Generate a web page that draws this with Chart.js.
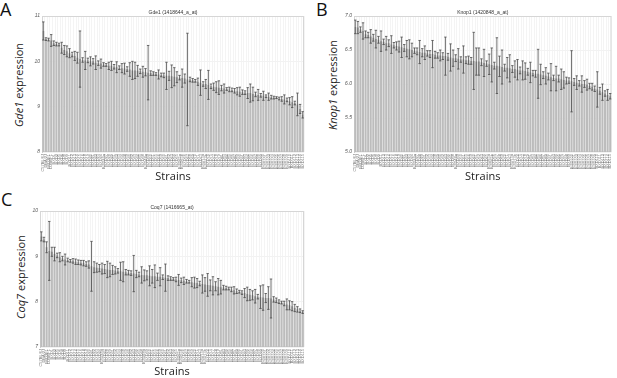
<!DOCTYPE html>
<html>
<head>
<meta charset="utf-8">
<script src="https://cdn.jsdelivr.net/npm/chart.js@4.4.0/dist/chart.umd.min.js"></script>
<style>
  body { margin: 0; background: #fff; width: 617px; height: 378px; position: relative; overflow: hidden; font-family: "Open Sans", sans-serif; }
  canvas { position: absolute; }
  .letter { position: absolute; font-size: 18px; line-height: 18px; color: #111; }
  .ytitle { position: absolute; font-size: 11px; color: #222; white-space: nowrap; transform: translate(-50%, -50%) rotate(-90deg); }
</style>
</head>
<body>
<div class="letter" style="left:0px;top:0px">A</div>
<div class="letter" style="left:316px;top:0px">B</div>
<div class="letter" style="left:1px;top:190px">C</div>
<div class="ytitle" style="left:18px;top:85px"><i>Gde1</i> expression</div>
<div class="ytitle" style="left:332px;top:85px"><i>Knop1</i> expression</div>
<div class="ytitle" style="left:20px;top:277px"><i>Coq7</i> expression</div>
<canvas id="chartA" width="310" height="190" style="left:0;top:0"></canvas>
<canvas id="chartB" width="307" height="190" style="left:310px;top:0"></canvas>
<canvas id="chartC" width="310" height="188" style="left:0;top:190px"></canvas>
<script>
var strains = ["C57BL/6J","DBA/2J","B6D2F1","D2B6F1","BXD1","BXD2","BXD5","BXD6","BXD8","BXD9",
  "BXD11","BXD12","BXD13","BXD14","BXD15","BXD16","BXD18","BXD19","BXD20","BXD21",
  "BXD22","BXD23","BXD24","BXD24a","BXD27","BXD28","BXD29","BXD31","BXD32","BXD33",
  "BXD34","BXD38","BXD39","BXD40","BXD42","BXD43","BXD44","BXD45","BXD48","BXD48a",
  "BXD49","BXD50","BXD51","BXD55","BXD56","BXD59","BXD60","BXD61","BXD62","BXD63",
  "BXD64","BXD65","BXD65a","BXD65b","BXD66","BXD67","BXD68","BXD69","BXD70","BXD71",
  "BXD73","BXD73a","BXD73b","BXD74","BXD75","BXD77","BXD78","BXD79","BXD81","BXD83",
  "BXD84","BXD85","BXD86","BXD87","BXD89","BXD90","BXD91","BXD93","BXD94","BXD95",
  "BXD96","BXD97","BXD98","BXD99","BXD100","BXD101","BXD102","BXD103","BXD104","BXD105",
  "BXD106","BXD107","BXD108","BXD109","BXD110","BXD111","BXD112","BXD113","BXD114","BXD115"];

var gde1Values = [10.67, 10.49, 10.48, 10.46, 10.40, 10.38, 10.37, 10.30, 10.25, 10.22,
  10.18, 10.15, 10.12, 10.08, 10.05, 10.03, 10.02, 10.02, 10.00, 10.00,
  9.97, 9.96, 9.95, 9.93, 9.92, 9.90, 9.90, 9.88, 9.87, 9.86,
  9.85, 9.84, 9.83, 9.82, 9.80, 9.80, 9.79, 9.78, 9.77, 9.76,
  9.75, 9.74, 9.73, 9.72, 9.71, 9.70, 9.69, 9.68, 9.68, 9.67,
  9.66, 9.65, 9.64, 9.63, 9.62, 9.60, 9.60, 9.58, 9.57, 9.55,
  9.53, 9.50, 9.50, 9.48, 9.45, 9.44, 9.43, 9.42, 9.41, 9.40,
  9.39, 9.38, 9.37, 9.35, 9.34, 9.33, 9.32, 9.31, 9.30, 9.30,
  9.28, 9.27, 9.26, 9.25, 9.24, 9.23, 9.22, 9.21, 9.20, 9.20,
  9.18, 9.17, 9.16, 9.15, 9.12, 9.10, 9.08, 9.05, 8.95, 8.82];
var gde1Errors = [0.20, 0.03, 0.03, 0.13, 0.05, 0.04, 0.03, 0.12, 0.10, 0.12,
  0.10, 0.05, 0.10, 0.12, 0.62, 0.05, 0.20, 0.05, 0.10, 0.06,
  0.15, 0.05, 0.10, 0.04, 0.03, 0.08, 0.10, 0.05, 0.12, 0.04,
  0.10, 0.12, 0.05, 0.15, 0.20, 0.18, 0.12, 0.05, 0.12, 0.08,
  0.60, 0.05, 0.04, 0.03, 0.10, 0.04, 0.05, 0.30, 0.10, 0.25,
  0.20, 0.12, 0.05, 0.20, 0.10, 1.02, 0.05, 0.04, 0.03, 0.08,
  0.28, 0.05, 0.10, 0.32, 0.05, 0.08, 0.12, 0.15, 0.06, 0.10,
  0.03, 0.05, 0.04, 0.05, 0.08, 0.10, 0.05, 0.04, 0.12, 0.20,
  0.15, 0.05, 0.12, 0.04, 0.10, 0.03, 0.08, 0.04, 0.03, 0.02,
  0.03, 0.05, 0.10, 0.04, 0.08, 0.12, 0.04, 0.25, 0.10, 0.07];

var knop1Values = [6.84, 6.83, 6.80, 6.78, 6.73, 6.72, 6.70, 6.68, 6.66, 6.65,
  6.63, 6.62, 6.60, 6.60, 6.58, 6.57, 6.56, 6.55, 6.54, 6.53,
  6.52, 6.51, 6.50, 6.49, 6.48, 6.47, 6.46, 6.46, 6.45, 6.44,
  6.44, 6.43, 6.42, 6.42, 6.41, 6.41, 6.40, 6.39, 6.38, 6.38,
  6.37, 6.36, 6.36, 6.35, 6.35, 6.34, 6.34, 6.33, 6.33, 6.32,
  6.31, 6.30, 6.29, 6.28, 6.27, 6.27, 6.26, 6.25, 6.24, 6.24,
  6.23, 6.22, 6.22, 6.21, 6.20, 6.20, 6.19, 6.18, 6.17, 6.16,
  6.15, 6.15, 6.14, 6.13, 6.12, 6.11, 6.10, 6.09, 6.08, 6.08,
  6.07, 6.06, 6.05, 6.05, 6.04, 6.03, 6.02, 6.01, 6.00, 6.00,
  5.99, 5.97, 5.96, 5.93, 5.92, 5.90, 5.88, 5.86, 5.84, 5.82];
var knop1Errors = [0.10, 0.09, 0.04, 0.12, 0.05, 0.04, 0.10, 0.05, 0.13, 0.05,
  0.15, 0.04, 0.10, 0.05, 0.13, 0.04, 0.06, 0.08, 0.15, 0.05,
  0.12, 0.14, 0.10, 0.04, 0.05, 0.17, 0.06, 0.10, 0.04, 0.05,
  0.20, 0.05, 0.04, 0.08, 0.05, 0.28, 0.05, 0.20, 0.12, 0.05,
  0.15, 0.04, 0.20, 0.05, 0.06, 0.05, 0.42, 0.20, 0.20, 0.05,
  0.20, 0.04, 0.15, 0.25, 0.05, 0.41, 0.15, 0.25, 0.05, 0.15,
  0.20, 0.05, 0.12, 0.15, 0.05, 0.14, 0.12, 0.05, 0.15, 0.04,
  0.05, 0.36, 0.15, 0.05, 0.12, 0.05, 0.20, 0.04, 0.18, 0.05,
  0.15, 0.12, 0.05, 0.04, 0.45, 0.05, 0.10, 0.04, 0.12, 0.05,
  0.08, 0.04, 0.05, 0.04, 0.26, 0.05, 0.12, 0.04, 0.08, 0.04];

var coq7Values = [9.44, 9.37, 9.20, 9.12, 9.10, 9.05, 9.02, 8.98, 8.95, 8.93,
  8.92, 8.90, 8.90, 8.88, 8.87, 8.86, 8.85, 8.83, 8.82, 8.78,
  8.76, 8.75, 8.74, 8.73, 8.72, 8.71, 8.70, 8.70, 8.69, 8.68,
  8.67, 8.66, 8.65, 8.64, 8.63, 8.62, 8.61, 8.60, 8.59, 8.58,
  8.58, 8.57, 8.56, 8.56, 8.55, 8.55, 8.54, 8.53, 8.52, 8.51,
  8.50, 8.49, 8.48, 8.47, 8.46, 8.45, 8.44, 8.43, 8.42, 8.41,
  8.40, 8.39, 8.38, 8.37, 8.36, 8.35, 8.34, 8.33, 8.32, 8.31,
  8.30, 8.29, 8.27, 8.25, 8.23, 8.22, 8.20, 8.19, 8.17, 8.15,
  8.14, 8.12, 8.11, 8.10, 8.09, 8.08, 8.08, 8.07, 8.05, 8.03,
  8.00, 7.98, 7.96, 7.94, 7.92, 7.90, 7.86, 7.83, 7.80, 7.77];
var coq7Errors = [0.10, 0.05, 0.12, 0.65, 0.10, 0.15, 0.05, 0.10, 0.05, 0.12,
  0.04, 0.03, 0.05, 0.06, 0.05, 0.05, 0.06, 0.05, 0.08, 0.55,
  0.12, 0.10, 0.08, 0.12, 0.10, 0.18, 0.15, 0.10, 0.08, 0.05,
  0.20, 0.22, 0.06, 0.05, 0.05, 0.40, 0.08, 0.05, 0.18, 0.12,
  0.10, 0.22, 0.15, 0.25, 0.08, 0.20, 0.05, 0.30, 0.05, 0.04,
  0.03, 0.05, 0.12, 0.05, 0.08, 0.04, 0.03, 0.10, 0.12, 0.10,
  0.05, 0.20, 0.15, 0.25, 0.12, 0.20, 0.10, 0.18, 0.15, 0.05,
  0.04, 0.03, 0.05, 0.08, 0.05, 0.03, 0.04, 0.10, 0.15, 0.12,
  0.10, 0.15, 0.05, 0.25, 0.28, 0.10, 0.25, 0.43, 0.06, 0.05,
  0.04, 0.03, 0.05, 0.12, 0.10, 0.10, 0.08, 0.06, 0.04, 0.03];

// draws the +/- error whiskers on top of each bar
var errorBars = {
  id: 'errorBars',
  afterDatasetsDraw: function(chart) {
    var ctx = chart.ctx, y = chart.scales.y;
    var ds = chart.data.datasets[0];
    var meta = chart.getDatasetMeta(0);
    ctx.save();
    ctx.strokeStyle = '#4a4a4a';
    ctx.lineWidth = 0.8;
    meta.data.forEach(function(bar, i) {
      var v = ds.data[i], e = ds.errors[i];
      var top = y.getPixelForValue(v + e), bot = y.getPixelForValue(v - e);
      ctx.beginPath();
      ctx.moveTo(bar.x, top); ctx.lineTo(bar.x, bot);
      ctx.moveTo(bar.x - 1.2, top); ctx.lineTo(bar.x + 1.2, top);
      ctx.moveTo(bar.x - 1.2, bot); ctx.lineTo(bar.x + 1.2, bot);
      ctx.stroke();
    });
    ctx.restore();
  }
};

// light frame round the plot area
var plotFrame = {
  id: 'plotFrame',
  beforeDatasetsDraw: function(chart) {
    var a = chart.chartArea, ctx = chart.ctx;
    ctx.save();
    ctx.strokeStyle = '#d6d6d6';
    ctx.lineWidth = 1;
    ctx.strokeRect(a.left + 0.5, a.top + 0.5, a.right - a.left - 1, a.bottom - a.top - 1);
    ctx.restore();
  }
};

function makeChart(id, title, values, errors, yMin, yMax, step, decimals, p) {
  return new Chart(document.getElementById(id), {
    type: 'bar',
    data: {
      labels: strains,
      datasets: [{
        data: values,
        errors: errors,
        backgroundColor: '#bcbcbc',
        barPercentage: 0.78,
        categoryPercentage: 1.0
      }]
    },
    options: {
      responsive: false,
      animation: false,
      layout: { padding: { left: 0, right: p.right, top: 0, bottom: 0 } },
      plugins: {
        legend: { display: false },
        tooltip: { enabled: false },
        title: {
          display: true,
          text: title,
          fullSize: false,
          color: '#333',
          font: { family: 'Arial', size: 5, weight: 'normal' },
          padding: { top: p.titleTop, bottom: 0 }
        }
      },
      scales: {
        x: {
          grid: { color: '#ececec', lineWidth: 0.6, drawTicks: false },
          border: { display: false },
          ticks: { autoSkip: false, minRotation: 90, maxRotation: 90, padding: 2,
                   color: '#777', font: { family: 'Arial', size: 4 } },
          title: { display: true, text: 'Strains', color: '#222',
                   font: { family: 'Open Sans', size: 11 },
                   padding: { top: 0, bottom: p.strainsPad } },
          afterFit: function(s) { s.height = p.xHeight; }
        },
        y: {
          min: yMin,
          max: yMax,
          grid: { color: '#f2f2f2', drawTicks: false },
          border: { color: '#cccccc' },
          ticks: { stepSize: step, padding: 2, color: '#555',
                   font: { family: 'Arial', size: 5, style: 'italic' },
                   callback: function(v) { return v.toFixed(decimals); } },
          afterFit: function(s) { s.width = p.yWidth; }
        }
      }
    },
    plugins: [plotFrame, errorBars]
  });
}

makeChart('chartA', 'Gde1 (1418644_a_at)', gde1Values, gde1Errors, 8, 11, 1, 0,
  { right: 6, yWidth: 42, xHeight: 38, titleTop: 10, strainsPad: 7 });
makeChart('chartB', 'Knop1 (1420848_a_at)', knop1Values, knop1Errors, 5, 7, 0.5, 1,
  { right: 1, yWidth: 44, xHeight: 38, titleTop: 10, strainsPad: 7 });
makeChart('chartC', 'Coq7 (1416665_at)', coq7Values, coq7Errors, 7, 10, 1, 0,
  { right: 6, yWidth: 40, xHeight: 31, titleTop: 15, strainsPad: 0 });
</script>
</body>
</html>
